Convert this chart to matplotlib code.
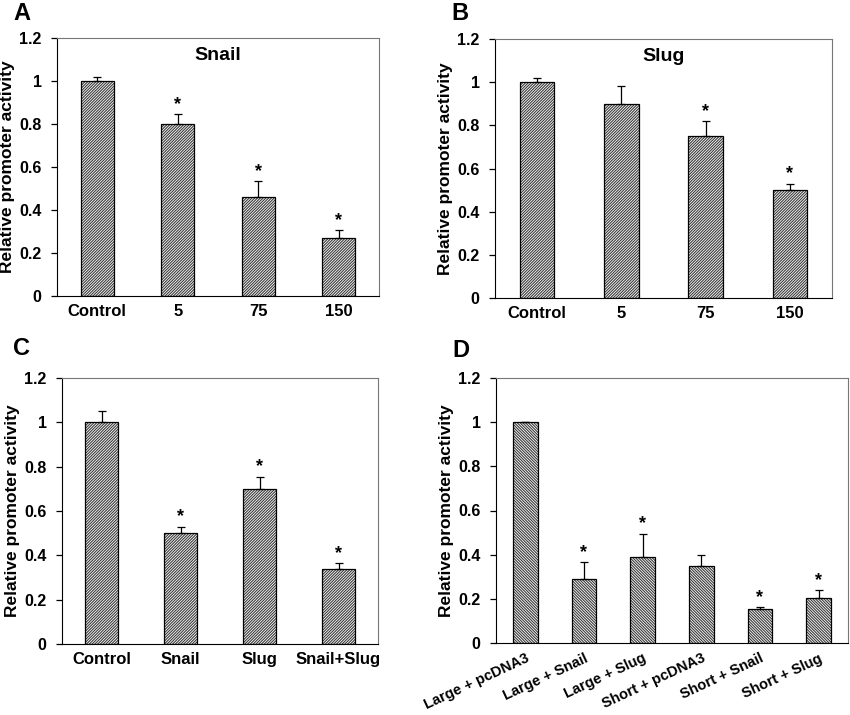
import matplotlib
matplotlib.use('Agg')
from matplotlib import pyplot as plt
import numpy as np

plt.rcParams['font.family'] = ['Liberation Sans', 'DejaVu Sans']
plt.rcParams['font.weight'] = 'bold'
plt.rcParams['hatch.linewidth'] = 0.8

# panel A - Snail
a_labels = ['Control', '5', '75', '150']
a_vals = [1.0, 0.80, 0.46, 0.27]
a_err = [0.02, 0.045, 0.075, 0.035]
a_star = [False, True, True, True]

# panel B - Slug
b_labels = ['Control', '5', '75', '150']
b_vals = [1.0, 0.90, 0.75, 0.50]
b_err = [0.02, 0.08, 0.07, 0.03]
b_star = [False, False, True, True]

# panel C
c_labels = ['Control', 'Snail', 'Slug', 'Snail+Slug']
c_vals = [1.0, 0.50, 0.70, 0.34]
c_err = [0.05, 0.03, 0.055, 0.025]
c_star = [False, True, True, True]

# panel D
d_labels = ['Large + pcDNA3', 'Large + Snail', 'Large + Slug',
            'Short + pcDNA3', 'Short + Snail', 'Short + Slug']
d_vals = [1.0, 0.29, 0.39, 0.35, 0.155, 0.205]
d_err = [0.0, 0.075, 0.105, 0.05, 0.008, 0.035]
d_star = [False, True, True, False, True, True]

W, H = 850, 715
fig = plt.figure(figsize=(W / 100, H / 100), dpi=100)


def make_axes(l, r, t, b):
    return fig.add_axes([l / W, 1 - b / H, (r - l) / W, (b - t) / H])


def panel(ax, labels, vals, err, stars, hatch, width, title=None, rot=0):
    x = np.arange(len(vals))
    ax.bar(x, vals, width, color='white', edgecolor='#3a3a3a', hatch=hatch, linewidth=0)
    ax.bar(x, vals, width, color='none', edgecolor='black', linewidth=0.9)
    ax.errorbar(x, vals, yerr=[np.zeros(len(err)), err], fmt='none', ecolor='black',
                elinewidth=0.9, capsize=3, capthick=0.9)
    for xi, v, e, s in zip(x, vals, err, stars):
        if s:
            ax.text(xi, v + e + 0.005, '*', ha='center', va='bottom', fontsize=13, fontweight='bold')
    ax.set_xlim(-0.5, len(vals) - 0.5)
    ax.set_ylim(0, 1.2)
    ax.set_yticks([0, 0.2, 0.4, 0.6, 0.8, 1.0, 1.2])
    ax.set_yticklabels(['0', '0.2', '0.4', '0.6', '0.8', '1', '1.2'], fontsize=11.5, fontweight='bold')
    ax.set_xticks(x)
    if rot:
        ax.set_xticklabels(labels, fontsize=10.5, fontweight='bold', rotation=rot,
                           ha='right', rotation_mode='anchor')
    else:
        ax.set_xticklabels(labels, fontsize=12, fontweight='bold')
    ax.tick_params(axis='x', length=0, pad=6)
    ax.tick_params(axis='y', length=4, width=0.9, pad=7)
    ax.set_ylabel('Relative promoter activity', fontsize=12.5, fontweight='bold', labelpad=3)
    ax.spines['left'].set_color('black')
    ax.spines['bottom'].set_color('black')
    ax.spines['top'].set_color('#777777')
    ax.spines['right'].set_color('#777777')
    if title:
        ax.text(0.5, 0.965, title, transform=ax.transAxes, ha='center', va='top',
                fontsize=14, fontweight='bold')


ax_a = make_axes(57, 379, 38, 296)
panel(ax_a, a_labels, a_vals, a_err, a_star, '////////////', 0.41, title='Snail')
ax_b = make_axes(495, 832, 39, 298)
panel(ax_b, b_labels, b_vals, b_err, b_star, '////////////', 0.41, title='Slug')
ax_c = make_axes(62, 378, 378, 644)
panel(ax_c, c_labels, c_vals, c_err, c_star, '////////////', 0.41)
ax_d = make_axes(496, 848, 378, 643)
panel(ax_d, d_labels, d_vals, d_err, d_star, '\\' * 12, 0.42, rot=25)

for letter, px, py in [('A', 13, 20), ('B', 451, 20), ('C', 13, 355), ('D', 452, 357)]:
    fig.text(px / W, 1 - py / H, letter, fontsize=17, fontweight='bold', va='baseline')

fig.savefig('out.png', dpi=100)
